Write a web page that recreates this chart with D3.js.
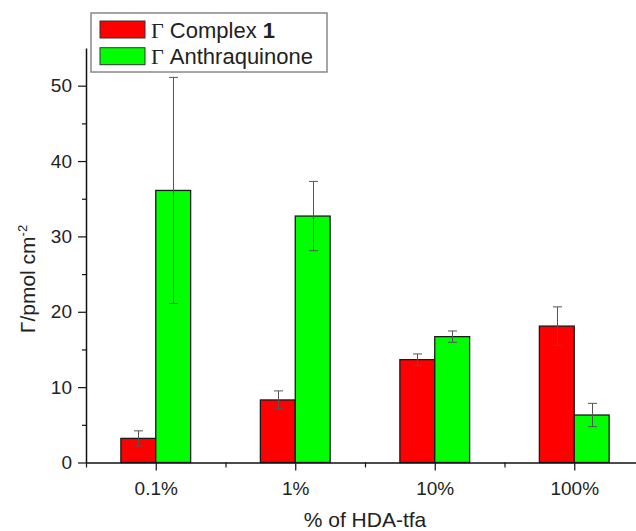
<!DOCTYPE html>
<html>
<head>
<meta charset="utf-8">
<script src="https://cdn.jsdelivr.net/npm/d3@7"></script>
<style>
  html, body { margin: 0; padding: 0; background: #fff; }
  svg { display: block; }
  text { font-family: "Liberation Sans", Arial, sans-serif; fill: #222; }
</style>
</head>
<body>
<svg id="chart" width="636" height="531"></svg>
<script>
// ---- data ----
const categories = ["0.1%", "1%", "10%", "100%"];
const complex1 = [3.2, 8.3, 13.65, 18.1];
const complex1Err = [1.0, 1.2, 0.75, 2.55];
const anthraquinone = [36.1, 32.7, 16.7, 6.3];
const anthraquinoneErr = [15.0, 4.6, 0.75, 1.55];
const yTicks = [0, 10, 20, 30, 40, 50];
const yMinorTicks = [5, 15, 25, 35, 45];

const seriesList = [
  { name: "Complex", bold: "1", values: complex1, errors: complex1Err, color: "#ff0000", offset: -1 },
  { name: "Anthraquinone", bold: "", values: anthraquinone, errors: anthraquinoneErr, color: "#00ff00", offset: 0 }
];

const svg = d3.select("#chart");
const x = d3.scaleLinear().domain([0.5, 4.5]).range([86, 644]);
const y = d3.scaleLinear().domain([0, 55]).range([462.5, 48]);
const barW = 0.25;

// bars
seriesList.forEach(s => {
  const g = svg.append("g");
  g.selectAll("rect").data(s.values).join("rect")
    .attr("x", (d, i) => x(i + 1 + s.offset * barW))
    .attr("width", x(1 + barW) - x(1))
    .attr("y", d => y(d))
    .attr("height", d => y(0) - y(d))
    .attr("fill", s.color)
    .attr("stroke", "#1a1a1a")
    .attr("stroke-width", 1.3);
});

// error bars
seriesList.forEach(s => {
  const g = svg.append("g").attr("stroke", "#555").attr("stroke-width", 1).attr("fill", "none");
  s.values.forEach((v, i) => {
    const cx = Math.round(x(i + 1 + (s.offset + 0.5) * barW)) + 0.5;
    const top = y(v + s.errors[i]), bot = y(v - s.errors[i]);
    g.append("line").attr("x1", cx).attr("x2", cx).attr("y1", top).attr("y2", bot);
    g.append("line").attr("x1", cx - 4.5).attr("x2", cx + 4.5).attr("y1", top).attr("y2", top);
    g.append("line").attr("x1", cx - 4.5).attr("x2", cx + 4.5).attr("y1", bot).attr("y2", bot);
  });
});

// y axis
const yAxisG = svg.append("g").attr("transform", `translate(${x(0.5)},0)`)
  .call(d3.axisLeft(y).tickValues(yTicks).tickSize(8).tickSizeOuter(0).tickPadding(6));
svg.append("g").attr("transform", `translate(${x(0.5)},0)`)
  .call(d3.axisLeft(y).tickValues(yMinorTicks).tickSize(4).tickFormat("")).select(".domain").remove();
yAxisG.selectAll("text").style("font-size", "19px").attr("fill", "#222");

// x axis
const xAxisG = svg.append("g").attr("transform", `translate(0,${y(0)})`)
  .call(d3.axisBottom(x).tickValues([1, 2, 3, 4]).tickFormat(d => categories[d - 1])
    .tickSize(8).tickSizeOuter(0).tickPadding(11));
svg.append("g").attr("transform", `translate(0,${y(0)})`)
  .call(d3.axisBottom(x).tickValues([0.5, 1.5, 2.5, 3.5, 4.5]).tickSize(5).tickFormat(""))
  .select(".domain").remove();
xAxisG.selectAll("text").style("font-size", "19px").attr("fill", "#222");

svg.selectAll(".domain").attr("stroke", "#111").attr("stroke-width", 1.5);
svg.selectAll(".tick line").attr("stroke", "#111").attr("stroke-width", 1.2);

// axis titles
svg.append("text")
  .attr("x", 365).attr("y", 527)
  .attr("text-anchor", "middle")
  .style("font-size", "21px")
  .text("% of HDA-tfa");

const yt = svg.append("text")
  .attr("transform", "translate(35,279) rotate(-90)")
  .attr("text-anchor", "middle")
  .style("font-size", "21px");
yt.append("tspan").text("Γ/pmol cm");
yt.append("tspan").attr("dy", -8).style("font-size", "13px").text("-2");

// legend
const lg = svg.append("g");
lg.append("rect").attr("x", 91).attr("y", 13).attr("width", 236).attr("height", 59)
  .attr("fill", "#fff").attr("stroke", "#888").attr("stroke-width", 1.5);
seriesList.forEach((s, i) => {
  const ry = 21 + i * 26.7;
  lg.append("rect").attr("x", 100).attr("y", ry).attr("width", 45).attr("height", 17)
    .attr("fill", s.color).attr("stroke", "#333").attr("stroke-width", 1);
  const t = lg.append("text").attr("x", 151).attr("y", ry + 16.5).style("font-size", "22px");
  t.append("tspan").style("font-family", "'Liberation Serif', 'Times New Roman', serif").text("Γ");
  t.append("tspan").text(" " + s.name + (s.bold ? " " : ""));
  if (s.bold) t.append("tspan").style("font-weight", "bold").text(s.bold);
});
</script>
</body>
</html>
